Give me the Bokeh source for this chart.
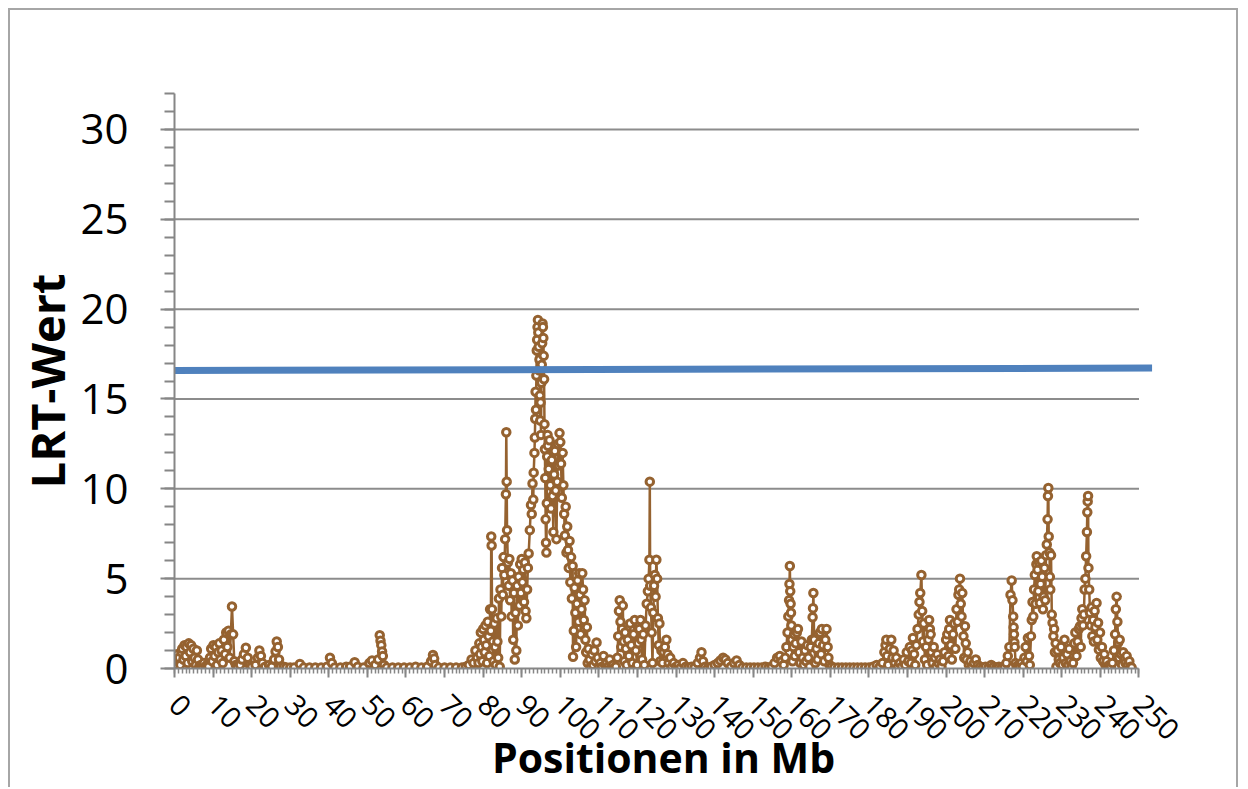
import math
from bokeh.plotting import figure
from bokeh.models import Range1d, SingleIntervalTicker
from bokeh.embed import file_html
from bokeh.resources import INLINE

# ---------------- data (positions in Mb, LRT values) ----------------
pos_a = [0.2, 0.4, 0.6, 0.8, 1.0, 1.2, 1.5, 1.8, 2.0, 2.3, 2.6, 2.9, 3.1, 3.4, 3.7,
         4.0, 4.3, 4.6, 4.9, 5.2, 5.5, 5.8, 6.1, 6.4, 6.8, 7.2, 7.6, 8.0, 8.4, 8.8,
         9.2, 9.5, 9.8, 10.1, 10.4, 10.7, 11.0, 11.3, 11.6, 11.9, 12.2, 12.5, 12.8, 13.1, 13.4,
         13.7, 14.0, 14.3, 14.6, 14.9, 15.2, 15.5, 15.9, 16.3]
lrt_a = [0.3, 0.5, 0.2, 0.8, 0.4, 0.6, 0.2, 0.9, 1.1, 0.5, 1.3, 0.7, 1.2, 0.3, 1.4,
         0.9, 1.3, 0.4, 1.1, 0.6, 0.2, 1.0, 0.5, 0.1, 0.2, 0.1, 0.3, 0.1, 0.2, 0.1,
         0.6, 1.1, 0.4, 1.3, 0.7, 1.2, 0.2, 0.9, 1.4, 0.5, 1.0, 0.3, 1.6, 0.8, 2.0,
         1.2, 2.1, 0.6, 1.9, 3.45, 1.9, 0.4, 0.2, 0.1]

pos_b = [17.0, 17.5, 18.0, 18.5, 19.0, 19.5, 20.0, 21.0, 21.6, 22.0, 22.4, 22.8, 23.5, 24.5, 25.2,
         25.8, 26.2, 26.5, 26.8, 27.1, 27.5, 28.3, 29.0, 30.0, 31.0, 32.5, 33.5, 35.0, 36.5, 38.0,
         39.5, 40.3, 40.8, 41.5, 43.0, 44.5, 45.5, 46.7, 47.5, 49.0, 50.5, 51.2, 52.0, 52.8, 53.2,
         53.4, 53.6, 53.8, 54.0, 54.3, 55.0, 56.5, 58.0, 59.5, 61.0, 62.5, 64.0, 65.5, 66.5, 67.0,
         67.3, 67.6, 68.5, 70.0, 71.5, 73.0, 74.5, 75.5, 76.3, 77.0, 77.5, 78.0, 78.4]
lrt_b = [0.2, 0.5, 0.8, 1.15, 0.6, 0.2, 0.1, 0.2, 0.6, 1.0, 0.7, 0.3, 0.1, 0.2, 0.1,
         0.5, 0.95, 1.5, 1.2, 0.5, 0.1, 0.1, 0.05, 0.05, 0.05, 0.25, 0.05, 0.05, 0.05, 0.05,
         0.1, 0.6, 0.3, 0.05, 0.05, 0.1, 0.1, 0.35, 0.1, 0.05, 0.3, 0.45, 0.2, 0.5, 1.85,
         1.55, 1.3, 0.95, 0.7, 0.2, 0.05, 0.05, 0.05, 0.05, 0.05, 0.1, 0.05, 0.1, 0.4, 0.75,
         0.55, 0.2, 0.05, 0.05, 0.05, 0.05, 0.05, 0.1, 0.2, 0.5, 0.3, 1.0, 0.6]

pos_c = [78.8, 79.0, 79.2, 79.4, 79.6, 79.8, 80.0, 80.2, 80.4, 80.6, 80.8, 81.0, 81.2, 81.4, 81.6,
         81.8, 82.0, 82.1, 82.2, 82.3, 82.5, 82.7, 82.9, 83.1, 83.3, 83.5, 83.7, 83.9, 84.1, 84.3,
         84.5, 84.7, 84.9, 85.1, 85.3, 85.5, 85.7, 85.9, 86.0, 86.1, 86.2, 86.4, 86.6, 86.8, 87.0,
         87.2, 87.4, 87.6, 87.8, 88.0, 88.2, 88.4, 88.6, 88.8, 89.0, 89.2, 89.4, 89.6, 89.8, 90.0,
         90.2, 90.4, 90.6, 90.8, 91.0, 91.2, 91.4, 91.6, 91.8]
lrt_c = [0.3, 1.4, 0.8, 2.0, 1.2, 0.4, 2.2, 1.6, 0.9, 2.4, 1.3, 0.3, 2.6, 1.8, 0.7,
         3.3, 2.1, 7.35, 6.85, 3.3, 1.5, 0.4, 2.5, 1.2, 0.2, 2.8, 1.5, 0.6, 3.9, 0.1,
         4.4, 2.9, 5.6, 4.1, 6.2, 5.2, 7.2, 9.7, 13.15, 10.4, 7.7, 5.9, 4.6, 6.1, 3.8,
         5.3, 2.9, 4.9, 1.6, 4.2, 0.5, 3.1, 1.0, 4.6, 2.4, 5.1, 3.5, 5.8, 4.2, 6.1,
         4.8, 5.5, 3.7, 5.9, 3.2, 2.8, 4.4, 5.6, 6.4]

pos_d = [92.1, 92.4, 92.6, 92.8, 93.0, 93.1, 93.3, 93.4, 93.5, 93.6, 93.7, 93.8, 93.9, 94.0, 94.1,
         94.2, 94.3, 94.4, 94.5, 94.6, 94.7, 94.8, 94.9, 95.0, 95.1, 95.2, 95.3, 95.4, 95.5, 95.6,
         95.7, 95.8, 95.9, 96.0, 96.1, 96.2, 96.3, 96.4, 96.5, 96.6, 96.7, 96.8, 97.0, 97.2, 97.4,
         97.6, 97.8, 98.0, 98.2, 98.4, 98.6, 98.8, 99.0, 99.2, 99.4, 99.6, 99.8, 100.0, 100.2, 100.4,
         100.6, 100.8, 101.0, 101.2, 101.4, 101.6, 101.8, 102.0, 102.2, 102.4, 102.6, 102.8, 103.0, 103.2, 103.3,
         103.5, 103.7, 103.9, 104.1, 104.3, 104.5, 104.7, 104.9, 105.1, 105.3, 105.5, 105.7, 105.9, 106.1, 106.3,
         106.5, 106.7, 106.9, 107.1, 107.3, 107.6, 107.9]
lrt_d = [7.7, 9.1, 8.6, 10.3, 9.4, 10.9, 12.0, 12.85, 13.9, 15.4, 14.4, 16.3, 17.7, 18.3, 19.0,
         19.4, 18.7, 17.9, 16.6, 17.2, 15.2, 13.8, 14.8, 13.0, 15.9, 16.9, 18.1, 19.2, 19.0, 18.4,
         17.4, 16.1, 13.6, 12.2, 10.6, 8.3, 7.0, 6.45, 9.2, 11.8, 13.0, 12.4, 11.1, 12.7, 10.2,
         8.9, 11.6, 9.6, 7.6, 10.8, 12.1, 9.9, 7.2, 10.4, 12.5, 11.3, 13.1, 12.6, 11.4, 9.5,
         12.0, 10.2, 8.6, 7.4, 9.0, 6.45, 7.9, 6.6, 5.6, 7.1, 4.8, 6.2, 3.9, 5.7, 0.65,
         2.1, 4.5, 3.1, 1.2, 3.6, 4.9, 2.6, 5.3, 4.1, 1.9, 3.3, 5.3, 4.4, 2.7, 3.8,
         1.6, 0.9, 2.3, 0.3, 1.1, 0.5, 0.1]

pos_e = [108.2, 108.5, 108.8, 109.1, 109.4, 109.7, 110.0, 110.4, 110.8, 111.2, 111.6, 112.0, 112.4, 112.8, 113.2,
         113.6, 114.0, 114.4, 114.8, 115.0, 115.2, 115.4, 115.6, 115.8, 116.0, 116.2, 116.4, 116.6, 116.8, 117.0,
         117.2, 117.5, 117.8, 118.1, 118.4, 118.7, 119.0, 119.3, 119.6, 119.9, 120.2, 120.5, 120.8, 121.0, 121.2,
         121.5, 121.8, 122.1, 122.4, 122.7, 122.9, 123.1, 123.2, 123.3, 123.5, 123.7, 123.9, 124.1, 124.3, 124.5,
         124.7, 124.9, 125.1, 125.3, 125.5, 125.7, 125.9, 126.2, 126.5, 126.8, 127.1, 127.5, 127.8, 128.1, 128.5,
         128.9, 129.4, 130.0, 130.6, 131.2, 131.8, 132.5, 133.2, 134.0, 134.8]
lrt_e = [0.8, 0.2, 1.0, 0.4, 1.45, 0.6, 0.1, 0.3, 0.1, 0.7, 0.2, 0.3, 0.1, 0.5, 0.1,
         0.2, 0.05, 0.1, 0.6, 1.8, 3.2, 3.8, 2.6, 1.2, 2.2, 3.5, 1.5, 0.4, 2.0, 1.1,
         0.2, 1.6, 0.7, 2.5, 1.3, 0.3, 1.9, 2.7, 1.0, 0.2, 1.4, 2.2, 2.7, 1.6, 0.5,
         1.9, 0.2, 2.4, 3.6, 4.3, 5.0, 6.05, 10.4, 4.6, 3.4, 2.0, 0.3, 3.1, 4.6, 5.2,
         4.0, 6.05, 5.0, 2.8, 1.3, 2.5, 0.4, 1.0, 0.3, 0.9, 1.2, 1.6, 0.8, 0.3, 0.6,
         0.1, 0.3, 0.1, 0.2, 0.05, 0.3, 0.1, 0.05, 0.1, 0.05]

pos_f = [135.6, 136.2, 136.6, 137.0, 137.5, 138.3, 139.1, 140.0, 140.8, 141.5, 142.2, 142.8, 143.4, 144.2, 145.0,
         145.7, 146.4, 147.2, 148.2, 149.2, 150.2, 151.2, 152.2, 153.2, 154.0, 154.8, 155.5, 156.2, 156.9, 157.4,
         157.9, 158.3, 158.6, 158.9, 159.1, 159.3, 159.4, 159.5, 159.6, 159.7, 159.8, 159.9, 160.0, 160.2, 160.4,
         160.6, 160.8, 161.0, 161.3, 161.6, 161.9, 162.2, 162.5, 162.8, 163.1, 163.4, 163.7, 164.0, 164.3, 164.6,
         164.9, 165.2, 165.4, 165.5, 165.6, 165.8, 166.1, 166.4, 166.7, 167.0, 167.3, 167.6, 167.8, 168.1, 168.4,
         168.7, 169.0, 169.3, 169.5, 169.8, 170.3]
lrt_f = [0.3, 0.6, 0.9, 0.4, 0.1, 0.05, 0.1, 0.2, 0.3, 0.45, 0.6, 0.5, 0.3, 0.1, 0.3,
         0.45, 0.2, 0.05, 0.05, 0.05, 0.05, 0.05, 0.05, 0.1, 0.05, 0.1, 0.3, 0.6, 0.7, 0.4,
         0.2, 0.6, 1.2, 2.0, 2.9, 3.8, 4.7, 5.7, 4.3, 3.6, 3.1, 2.4, 1.6, 0.4, 1.2,
         1.9, 0.7, 1.4, 2.0, 2.2, 0.9, 0.3, 1.5, 0.6, 0.2, 1.0, 0.4, 1.3, 0.6, 0.1,
         1.2, 1.6, 2.85, 3.35, 4.2, 1.6, 0.3, 1.1, 0.5, 1.4, 2.0, 0.8, 2.2, 1.3, 0.4,
         1.6, 2.2, 1.2, 0.6, 0.2, 0.1]

pos_g = [171.0, 172.0, 173.0, 174.0, 175.0, 176.0, 177.0, 178.0, 179.0, 180.0, 181.0, 182.0, 182.8, 183.5, 184.0,
         184.3, 184.5, 184.7, 185.0, 185.4, 185.8, 186.1, 186.4, 186.7, 187.1, 187.5, 188.0, 188.5, 189.0, 189.4,
         189.8, 190.2, 190.6, 190.9, 191.2, 191.4, 191.7, 192.0, 192.3, 192.6, 192.9, 193.1, 193.3, 193.6, 193.8,
         194.0, 194.2, 194.5, 194.8, 195.1, 195.4, 195.6, 195.8, 196.0, 196.2, 196.5, 196.8, 197.1, 197.4, 197.7,
         198.0, 198.4, 198.8, 199.2, 199.6, 200.0, 200.3, 200.6, 200.8, 201.0, 201.2, 201.5, 201.8, 202.1, 202.4,
         202.7, 203.0, 203.2, 203.4, 203.6, 203.8, 204.0, 204.2, 204.5, 204.7, 204.9, 205.1, 205.3, 205.6, 205.9,
         206.3, 206.7, 207.2, 207.7, 208.2, 208.8, 209.5, 210.2, 211.0, 211.7, 212.3, 213.0, 213.7, 214.4, 215.1]
lrt_g = [0.05, 0.05, 0.05, 0.05, 0.05, 0.05, 0.05, 0.05, 0.05, 0.05, 0.1, 0.2, 0.1, 0.3, 0.9,
         1.3, 1.6, 0.7, 0.2, 1.1, 1.6, 0.6, 1.0, 0.3, 0.6, 0.1, 0.3, 0.1, 0.5, 0.2,
         0.9, 0.4, 1.2, 0.3, 1.0, 1.7, 0.8, 0.2, 1.3, 2.2, 3.0, 3.7, 4.2, 5.2, 3.2,
         1.5, 2.5, 0.5, 1.2, 0.2, 1.6, 2.7, 2.2, 1.9, 0.9, 0.3, 1.2, 0.6, 0.1, 0.8,
         0.3, 0.5, 0.1, 0.4, 0.9, 1.6, 1.9, 0.7, 2.2, 2.7, 1.3, 0.5, 1.9, 2.5, 1.1,
         3.3, 2.6, 4.1, 4.4, 5.0, 3.6, 2.9, 4.2, 1.8, 0.6, 2.35, 1.4, 0.5, 0.9, 0.2,
         0.4, 0.1, 0.3, 0.5, 0.2, 0.1, 0.05, 0.1, 0.05, 0.2, 0.1, 0.05, 0.1, 0.05, 0.1]

pos_h = [215.6, 216.0, 216.4, 216.7, 217.0, 217.2, 217.4, 217.5, 217.6, 217.7, 217.8, 218.0, 218.3, 218.7, 219.1,
         219.5, 219.9, 220.3, 220.6, 220.9, 221.2, 221.5, 221.7, 222.0, 222.2, 222.4, 222.6, 222.8, 223.0, 223.2,
         223.4, 223.5, 223.7, 223.9, 224.1, 224.3, 224.5, 224.7, 224.9, 225.1, 225.3, 225.5, 225.7, 225.9, 226.1,
         226.3, 226.4, 226.5, 226.6, 226.8, 226.9, 227.0, 227.2, 227.4, 227.6, 227.8, 228.0, 228.2, 228.4, 228.6,
         228.9, 229.2, 229.5, 229.8, 230.1, 230.4, 230.7, 231.0, 231.3, 231.6, 231.9, 232.2, 232.5, 232.9, 233.2,
         233.5, 233.8, 234.1, 234.4, 234.7, 234.9, 235.1, 235.3, 235.5, 235.7, 235.9, 236.1, 236.3, 236.5, 236.6,
         236.7, 236.8, 236.9, 237.1, 237.3, 237.5, 237.7, 237.9, 238.1, 238.3, 238.5, 238.7, 239.0, 239.2, 239.4,
         239.6, 239.9, 240.1, 240.4, 240.7, 241.0, 241.3, 241.6, 241.9, 242.3, 242.7, 243.1, 243.5, 243.8, 244.0,
         244.2, 244.4, 244.6, 244.8, 245.0, 245.3, 245.6, 245.9, 246.2, 246.5, 246.8, 247.1, 247.5, 247.8, 248.1]
lrt_h = [0.3, 0.7, 1.2, 4.1, 4.9, 3.8, 2.9, 2.3, 1.9, 1.45, 1.2, 0.3, 0.1, 0.2, 0.1,
         0.3, 0.1, 0.6, 1.2, 0.4, 1.7, 0.7, 0.2, 1.8, 2.7, 3.7, 2.9, 4.4, 5.2, 3.6,
         5.8, 6.25, 5.5, 4.3, 5.9, 3.65, 4.7, 6.0, 5.1, 3.3, 4.0, 5.6, 3.8, 6.3, 6.9,
         8.3, 9.6, 10.05, 7.35, 6.45, 5.1, 4.4, 6.3, 3.0, 2.55, 1.8, 2.2, 0.9, 1.4, 0.1,
         1.0, 0.5, 0.3, 1.2, 0.2, 0.6, 1.6, 0.3, 0.8, 0.2, 1.1, 0.4, 0.1, 0.3, 1.4,
         2.0, 0.7, 1.5, 2.2, 2.35, 1.2, 2.8, 3.3, 2.4, 3.0, 4.4, 5.0, 6.25, 7.6, 8.7,
         9.3, 9.6, 5.6, 4.4, 3.1, 2.4, 3.4, 1.8, 2.7, 1.5, 3.2, 2.3, 3.65, 1.6, 2.55,
         1.05, 2.0, 0.6, 1.2, 0.4, 0.8, 0.2, 0.4, 0.1, 0.2, 0.1, 0.3, 1.0, 1.9, 3.3,
         4.0, 2.6, 1.45, 0.6, 1.6, 0.8, 0.2, 0.9, 0.5, 0.3, 0.7, 0.2, 0.4, 0.1, 0.05]

threshold_pos = [0.0, 253.4]
threshold_lrt = [16.58, 16.72]

y_tick_values = [0, 5, 10, 15, 20, 25, 30]
x_axis_limits = (0, 250)
y_axis_limits = (0, 32)

pos_groups = [pos_a, pos_b, pos_c, pos_d, pos_e, pos_f, pos_g, pos_h]
lrt_groups = [lrt_a, lrt_b, lrt_c, lrt_d, lrt_e, lrt_f, lrt_g, lrt_h]
positions, lrt_values = [], []
for pg, lg in zip(pos_groups, lrt_groups):
    assert len(pg) == len(lg), (len(pg), len(lg), pg[0])
    positions.extend(pg)
    lrt_values.extend(lg)

# ---------------- styling ----------------
BROWN = "#956230"
BLUE = "#4F81BD"
GRID = "#8C8C8C"
AXIS = "#868686"
FONT = "Open Sans"

p = figure(width=1230, height=779,
           x_range=Range1d(0, 253.5), y_range=Range1d(0, 32),
           output_backend="svg", toolbar_location=None,
           min_border_left=164, min_border_right=88,
           min_border_top=83, min_border_bottom=121)
# outer chart border (like the framed chart area of the original)
p.margin = (8, 0, 0, 8)
p.styles = {"border-top": "2px solid #A6A6A6",
            "border-left": "2px solid #A6A6A6",
            "border-right": "2px solid #A6A6A6"}
p.outline_line_color = None
p.background_fill_color = "white"
p.border_fill_color = "white"
p.xgrid.visible = False
p.ygrid.visible = False

# horizontal gridlines ending at x = 250 (like the reference)
grid_y = y_tick_values[1:]
p.segment(x0=[x_axis_limits[0]] * len(grid_y), x1=[x_axis_limits[1]] * len(grid_y),
          y0=grid_y, y1=grid_y, line_color=GRID, line_width=2)

# data series
p.line(positions, lrt_values, line_color=BROWN, line_width=2.5)
p.scatter(positions, lrt_values, size=7.5, line_color=BROWN, line_width=3,
          fill_color="white")

# threshold line
p.line(threshold_pos, threshold_lrt, line_color=BLUE, line_width=7)

# y axis
ya = p.yaxis[0]
ya.ticker = SingleIntervalTicker(interval=5, num_minor_ticks=5)
ya.bounds = y_axis_limits
ya.axis_line_color = AXIS
ya.axis_line_width = 2
ya.major_tick_line_color = AXIS
ya.minor_tick_line_color = AXIS
ya.major_tick_line_width = 2
ya.minor_tick_line_width = 2
ya.major_tick_out = 14
ya.major_tick_in = 0
ya.minor_tick_out = 10
ya.minor_tick_in = 0
ya.major_label_text_font = FONT
ya.major_label_text_font_size = "42px"
ya.major_label_text_color = "black"
ya.major_label_standoff = 32
ya.axis_label = "LRT-Wert"
ya.axis_label_text_font = FONT
ya.axis_label_text_font_style = "bold"
ya.axis_label_text_font_size = "47px"
ya.axis_label_text_color = "black"
ya.axis_label_standoff = -2

# x axis
xa = p.xaxis[0]
xa.ticker = SingleIntervalTicker(interval=10, num_minor_ticks=10)
xa.bounds = x_axis_limits
xa.axis_line_color = AXIS
xa.axis_line_width = 2
xa.major_tick_line_color = AXIS
xa.minor_tick_line_color = AXIS
xa.major_tick_line_width = 2
xa.minor_tick_line_width = 1.5
xa.major_tick_out = 9
xa.major_tick_in = 0
xa.minor_tick_out = 5
xa.minor_tick_in = 0
xa.major_label_orientation = -math.pi / 4
xa.major_label_text_font = FONT
xa.major_label_text_font_size = "29px"
xa.major_label_text_color = "black"
xa.major_label_standoff = 22
xa.axis_label = "Positionen in Mb"
xa.axis_label_text_font = FONT
xa.axis_label_text_font_style = "bold"
xa.axis_label_text_font_size = "41px"
xa.axis_label_text_color = "black"
xa.axis_label_standoff = -24

open("out.html", "w").write(file_html(p, INLINE))
